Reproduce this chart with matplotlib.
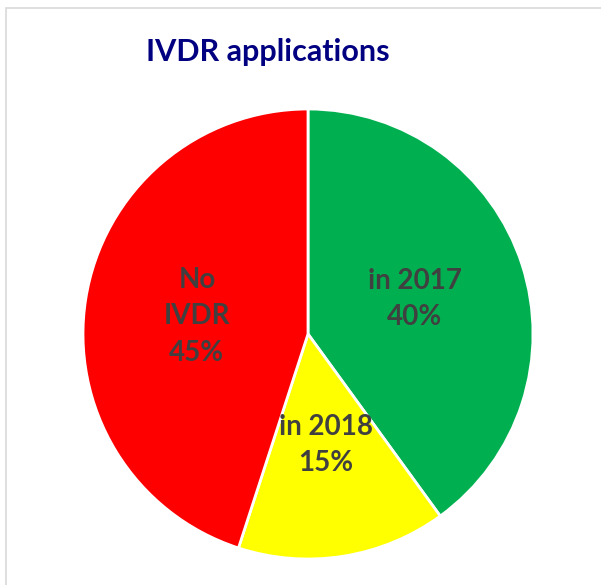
import matplotlib
matplotlib.use("Agg")
import matplotlib.pyplot as plt
from matplotlib.patches import Rectangle

categories = ["in 2017", "in 2018", "No\nIVDR"]
values = [40, 15, 45]
colors = ["#00B050", "#FFFF00", "#FF0000"]
title = "IVDR applications"

W, H = 601, 585
fig = plt.figure(figsize=(W / 100, H / 100), dpi=100)
fig.patch.set_facecolor("white")

# border
fig.patches.append(Rectangle((5.5 / W, -0.1), 1.2, (H - 8.5) / H + 0.1,
                             transform=fig.transFigure, fill=False,
                             edgecolor="#D9D9D9", linewidth=1.2))

cx, cy, r = 308, 334, 225
ax = fig.add_axes([(cx - r) / W, (H - cy - r) / H, 2 * r / W, 2 * r / H])
labels = [f"{c}\n{v}%" for c, v in zip(categories, values)]
ax.pie(values, colors=colors, labels=labels, startangle=90, counterclock=False,
       labeldistance=0.5, radius=1,
       wedgeprops=dict(edgecolor="white", linewidth=2),
       textprops=dict(ha="center", va="center", color="#404040",
                      fontsize=20, fontweight="bold", family="Lato",
                      linespacing=1.5))
ax.set_xlim(-1, 1)
ax.set_ylim(-1, 1)
ax.set_aspect("auto")
ax.axis("off")

fig.text(268 / W, 1 - 52 / H, title, ha="center", va="center",
         color="#000080", fontsize=22, fontweight="bold", family="Lato")

fig.savefig("out.png", dpi=100)
